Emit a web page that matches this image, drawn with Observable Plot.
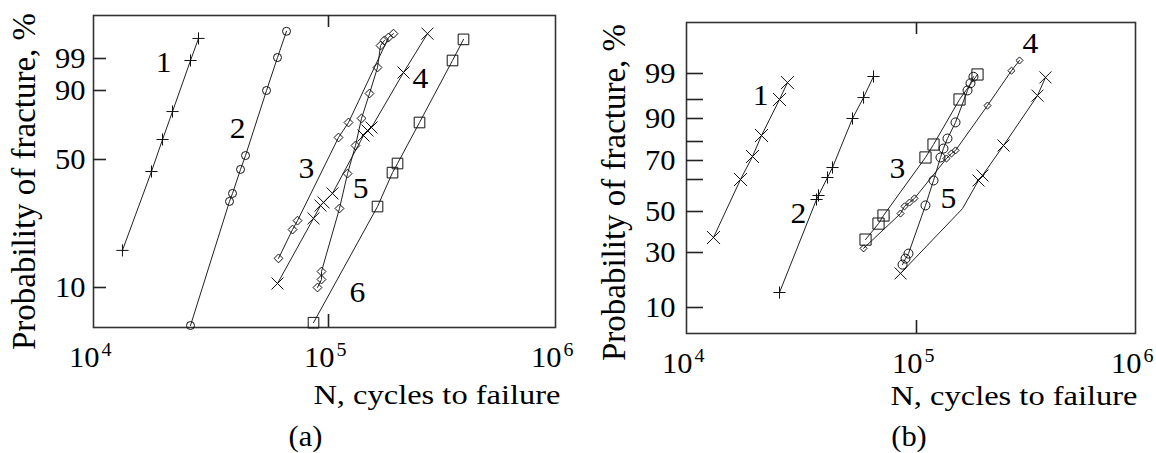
<!DOCTYPE html>
<html><head><meta charset="utf-8">
<script src="https://cdn.jsdelivr.net/npm/d3@7"></script>
<script src="https://cdn.jsdelivr.net/npm/@observablehq/plot@0.6"></script>
<style>
html,body{margin:0;padding:0;background:#fff;}
#wrap{position:relative;width:1156px;height:453px;overflow:hidden;background:#fff;}
#wrap > svg{position:absolute;top:0;}
#wrap svg, #wrap svg text{font-family:"Liberation Serif","Times New Roman",serif;}
</style></head>
<body><div id="wrap"></div>
<script>
// ---------- Panel (a): N = cycles to failure, P = probability of fracture (%)
const a1N = [13280, 17650, 19670, 21690, 25870, 27980];
const a1P = [21.6, 46.25, 61.6, 77.8, 98.44, 99.42];
const a2N = [25870, 37910, 39040, 42230, 44350, 54480, 60670, 66270];
const a2P = [5.25, 36.9, 39.4, 46.9, 52.3, 90, 99.02, 99.57];
const a3N = [61270, 70290, 73820, 110690, 122500, 183800, 193300];
const a3P = [19.1, 28.1, 30.9, 62.75, 71.45, 99.44, 99.52];
const a4N = [60670, 86340, 92470, 95220, 104140, 142650, 148500, 154700, 214000, 272900];
const a4P = [11.25, 31.6, 35.6, 36.6, 39.4, 63.9, 66.8, 68.55, 95.06, 99.52];
const a5N = [89790, 93360, 93360, 111800, 121300, 131500, 139800, 151600, 164400, 169500, 176500];
const a5P = [10, 12.5, 15, 34.7, 45.6, 58.1, 73.8, 88.26, 96.47, 99.27, 99.38];
const a6N = [86340, 164400, 191400, 201400, 251700, 351800, 393300];
const a6P = [5.6, 35.3, 45.9, 48.75, 71.45, 98.44, 99.40];
const aLabelText = ["1", "2", "3", "4", "5", "6"];
const aLabelN = [19860, 41010, 80620, 254300, 138400, 134200];
const aLabelP = [97.87, 67.97, 47.19, 93.37, 40.94, 9.375];
const aYTicks = [10, 50, 90, 99];

// ---------- Panel (b)
const b1N = [13100, 17170, 19360, 21190, 25370, 27480];
const b1P = [37.3, 60, 72.1, 82.6, 95, 97.6];
const b2N = [25370, 36750, 37490, 41020, 43130, 52690, 58850, 65020];
const b2P = [15.45, 53.75, 55, 61.05, 66.3, 90, 95.3, 98.54];
const b3N = [60040, 68360, 71880, 109900, 119600, 157200, 189900];
const b3P = [36.3, 44.1, 48.05, 71.6, 78.4, 95, 98.85];
const b4N = [58850, 85220, 88690, 93240, 98020, 137100, 144500, 150700, 210900, 271500, 295300];
const b4P = [32.0, 49.0, 51.6, 52.8, 54.1, 71.05, 73.7, 75.3, 93.4, 99.05, 99.23];
const b5N = [86950, 89600, 92300, 109900, 119600, 128700, 132800, 138500, 150700, 171000, 176400, 182000];
const b5P = [25.6, 27.8, 29.6, 51.9, 59.7, 71.6, 76.3, 81.3, 88.3, 96.4, 97.5, 98.5];
const b6N = [85220, 162200, 191900, 200100, 249600, 356800, 388200];
const b6P = [22.4, 50.9, 59.7, 62.1, 77.9, 95.6, 98.4];
const b6Marked = [1, 0, 1, 1, 1, 1, 1];
const bLabelText = ["1", "2", "3", "4", "5"];
const bLabelN = [20980, 30690, 82680, 331600, 140000];
const bLabelP = [95.6, 49.0, 65.8, 99.53, 54.06];
const bYTicks = [10, 30, 50, 70, 90, 99];
const bYMinor = [60, 80, 95];

// x tick labels (10^k)
const xTickN = [1e4, 1e5, 1e6];
const xTickBase = ["10", "10", "10"];
const xTickExp = ["4", "5", "6"];
const xInnerTicks = [1e5];

const FONT = "'Liberation Serif','Times New Roman',serif";
const INK = "#222";

function rowsOf(series) {
  return series.flatMap(s => s.N.map((n, i) => ({id: s.id, N: n, P: s.P[i], marked: s.marked ? s.marked[i] : 1})));
}

function panel(cfg) {
  const W = 578, H = 453;
  const [mL, mR, mT, mB] = cfg.margin;
  const innerW = W - mL - mR, innerH = H - mT - mB;
  const rows = rowsOf(cfg.series);
  const labels = cfg.labelText.map((t, i) => ({t, N: cfg.labelN[i], P: cfg.labelP[i]}));
  const allYTicks = cfg.yTicks.concat(cfg.yMinor || []);
  const marks = [
    Plot.frame({stroke: "#333", strokeWidth: 1.6}),
    // inward tick marks
    Plot.tickY(allYTicks, {y: d => d, insetRight: innerW - cfg.yTickSize, stroke: INK, strokeWidth: 1.6}),
    Plot.tickX(xInnerTicks, {x: d => d, insetTop: innerH - 13, stroke: INK, strokeWidth: 1.6}),
    Plot.tickX(xInnerTicks, {x: d => d, insetBottom: innerH - 12, stroke: INK, strokeWidth: 1.6}),
    // curves
    Plot.line(rows, {x: "N", y: "P", z: "id", stroke: "#222", strokeWidth: 1}),
    ...cfg.series.map(s => Plot.dot(rows.filter(d => d.id === s.id && d.marked), {
      x: "N", y: "P", symbol: s.symbol, r: s.r, stroke: "#111", fill: "none", strokeWidth: 1
    })),
    Plot.text(labels, {x: "N", y: "P", text: "t", fontSize: 30}),
    // y tick labels
    Plot.axisY(cfg.yTicks, {tickSize: 0, tickPadding: cfg.yLabelGap, label: null, fontSize: 29}),
    // x tick labels 10^k
    Plot.text(xTickN, {x: d => d, frameAnchor: "bottom", text: (d, i) => xTickBase[i], textAnchor: "end",
      lineAnchor: "bottom", dx: 6, dy: 39, fontSize: 29}),
    Plot.text(xTickN, {x: d => d, frameAnchor: "bottom", text: (d, i) => xTickExp[i], textAnchor: "start",
      lineAnchor: "bottom", dx: 8, dy: 28, fontSize: 19}),
    // titles
    Plot.text(["N, cycles to failure"], {frameAnchor: "bottom-right", text: d => d, textAnchor: "end",
      lineAnchor: "bottom", dx: cfg.xTitleDx, dy: cfg.xTitleDy, fontSize: 28}),
    Plot.text(["Probability of fracture, %"], {frameAnchor: "left", text: d => d, rotate: -90,
      textAnchor: "middle", lineAnchor: "bottom", dx: cfg.yTitleDx, dy: cfg.yTitleDy, fontSize: 33}),
    Plot.text([cfg.panelLabel], {frameAnchor: "bottom", text: d => d, lineAnchor: "bottom",
      dx: cfg.panelDx, dy: cfg.panelDy, fontSize: 29})
  ];
  return Plot.plot({
    width: W, height: H,
    marginLeft: mL, marginRight: mR, marginTop: mT, marginBottom: mB,
    style: {fontFamily: FONT, fontSize: "29px", color: "#000", background: "#fff", overflow: "visible"},
    x: {type: "log", domain: [1e4, 1e5, 1e6], range: cfg.xRange, axis: null},
    y: {type: "linear", domain: cfg.yDomain, range: cfg.yRange, axis: null},
    marks
  });
}

const svgA = panel({
  series: [
    {id: "1", N: a1N, P: a1P, symbol: "plus", r: 4},
    {id: "2", N: a2N, P: a2P, symbol: "circle", r: 4},
    {id: "3", N: a3N, P: a3P, symbol: "diamond2", r: 4},
    {id: "4", N: a4N, P: a4P, symbol: "times", r: 5.5},
    {id: "5", N: a5N, P: a5P, symbol: "diamond2", r: 4},
    {id: "6", N: a6N, P: a6P, symbol: "square", r: 6}
  ],
  labelText: aLabelText, labelN: aLabelN, labelP: aLabelP,
  yTicks: aYTicks, yTickSize: 13, yLabelGap: 8,
  margin: [93, 23, 15, 126],
  xRange: [93, 328, 555],
  yDomain: [5, 10, 50, 90, 99, 99.9], yRange: [327, 287, 159, 90, 58, 15],
  xTitleDx: 5, xTitleDy: 76, yTitleDx: -59, yTitleDy: 10,
  panelLabel: "(a)", panelDx: -19, panelDy: 118
});
const svgB = panel({
  series: [
    {id: "1", N: b1N, P: b1P, symbol: "times", r: 6},
    {id: "2", N: b2N, P: b2P, symbol: "plus", r: 4},
    {id: "3", N: b3N, P: b3P, symbol: "square", r: 6.3},
    {id: "4", N: b4N, P: b4P, symbol: "diamond2", r: 3.2},
    {id: "5", N: b5N, P: b5P, symbol: "circle", r: 4.5},
    {id: "6", N: b6N, P: b6P, marked: b6Marked, symbol: "times", r: 5.5}
  ],
  labelText: bLabelText, labelN: bLabelN, labelP: bLabelP,
  yTicks: bYTicks, yMinor: bYMinor, yTickSize: 17, yLabelGap: 11,
  margin: [108, 21, 22, 120],
  xRange: [108, 338, 557],
  yDomain: [5, 10, 30, 50, 60, 70, 80, 90, 95, 99, 99.9],
  yRange: [333, 307, 252, 211, 179, 160, 141, 118, 99, 73, 22],
  xTitleDx: 2, xTitleDy: 71, yTitleDx: -62, yTitleDy: 14.5,
  panelLabel: "(b)", panelDx: -2, panelDy: 112
});

const wrap = document.getElementById("wrap");
svgA.style.left = "0px";
svgB.style.left = "578px";
wrap.appendChild(svgA);
wrap.appendChild(svgB);

// the scanned figure's lettering is slightly wide: stretch horizontal text
for (const svg of [svgA, svgB]) {
  svg.querySelectorAll("text").forEach(t => {
    if (/rotate/.test(t.getAttribute("transform") || "")) return;
    const s = t.textContent || "";
    const L = t.getComputedTextLength();
    if (!(L > 0)) return;
    const f = s.length > 4 ? 1.16 : 1.05;
    t.setAttribute("textLength", (L * f).toFixed(1));
    t.setAttribute("lengthAdjust", "spacingAndGlyphs");
  });
}
</script>
</body></html>
